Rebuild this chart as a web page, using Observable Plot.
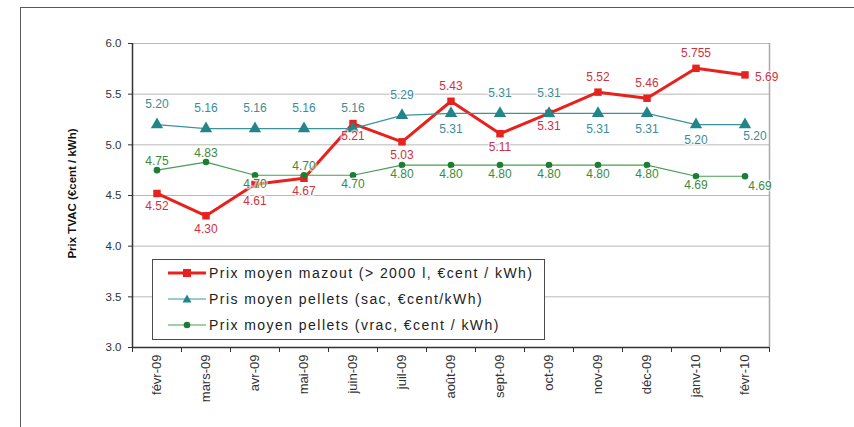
<!DOCTYPE html>
<html>
<head>
<meta charset="utf-8">
<script src="https://cdn.jsdelivr.net/npm/d3@7"></script>
<script src="https://cdn.jsdelivr.net/npm/@observablehq/plot@0.6"></script>
<style>
  html, body { margin: 0; padding: 0; background: #fff; }
  #wrap { position: relative; width: 854px; height: 427px; overflow: hidden; font-family: "Liberation Sans", Arial, sans-serif; }
  #frame { position: absolute; left: 20px; top: 7px; width: 840px; height: 430px; border-left: 1.5px solid #5a5a5a; border-top: 1.5px solid #5a5a5a; pointer-events: none; }
  #chart { position: absolute; left: 0; top: 0; }
  #legend { position: absolute; left: 152px; top: 259px; width: 391px; height: 79px; border: 1.5px solid #4a4a4a; background: #fff; }
  .item { position: absolute; left: 0; height: 20px; display: flex; align-items: center; }
  .item svg { margin-left: 15px; }
  .item span { margin-left: 3px; font-size: 14px; letter-spacing: 1.45px; color: #222; white-space: nowrap; }
</style>
</head>
<body>
<div id="wrap">
  <div id="frame"></div>
  <div id="chart"></div>
  <div id="legend"></div>
</div>
<script>
// ---- data ----
const months = ["févr-09","mars-09","avr-09","mai-09","juin-09","juil-09","août-09","sept-09","oct-09","nov-09","déc-09","janv-10","févr-10"];
const mazout = [4.52, 4.30, 4.61, 4.67, 5.21, 5.03, 5.43, 5.11, 5.31, 5.52, 5.46, 5.755, 5.69];
const pelletsSac = [5.20, 5.16, 5.16, 5.16, 5.16, 5.29, 5.31, 5.31, 5.31, 5.31, 5.31, 5.20, 5.20];
const pelletsVrac = [4.75, 4.83, 4.70, 4.70, 4.70, 4.80, 4.80, 4.80, 4.80, 4.80, 4.80, 4.69, 4.69];
const yTicks = [3.0, 3.5, 4.0, 4.5, 5.0, 5.5, 6.0];
const seriesNames = [
  "Prix moyen mazout (> 2000 l, €cent / kWh)",
  "Pris moyen pellets (sac, €cent/kWh)",
  "Prix moyen pellets (vrac, €cent / kWh)"
];
const yLabel = "Prix TVAC (€cent / kWh)";
// label placement (t = above, b = below, bb = further below, r = right, br = below right)
const placeMazout = ["b","b","bb","b","b","b","t","b","b","t","t","t","r"];
const placeSac    = ["t","t","t","t","t","t","b","t","t","b","b","b","br"];
const placeVrac   = ["t","t","b","t","b","b","b","b","b","b","b","b","br"];

// ---- styles ----
const RED = "#e8211c", RED_TXT = "#cc3342";
const TEAL = "#21858a", TEAL_LINE = "#3a9499", TEAL_TXT = "#3a8c9b";
const GREEN = "#1d7d35", GREEN_LINE = "#4a9c52", GREEN_TXT = "#3b8a3e";

const fmt = v => { const s = String(v); const d = s.includes(".") ? s.split(".")[1].length : 0; return d >= 2 ? s : v.toFixed(2); };
const rows = (vals, place) => vals.map((v, i) => ({ i, x: i + 0.5, v, p: place[i], label: fmt(v) }));

const rM = rows(mazout, placeMazout);
const rS = rows(pelletsSac, placeSac);
const rV = rows(pelletsVrac, placeVrac);

function labels(data, color, off) {
  return Object.keys(off).map(p => Plot.text(data.filter(d => d.p === p), {
    x: "x", y: "v", text: "label",
    dx: off[p].dx || 0, dy: off[p].dy || 0,
    textAnchor: off[p].anchor || "middle",
    fill: color, fontSize: 12, stroke: "white", strokeWidth: 3, strokeOpacity: 0.6,
    style: "letter-spacing:1.6px"
  }));
}

const chart = Plot.plot({
  width: 854, height: 427,
  marginLeft: 132, marginRight: 85, marginTop: 43, marginBottom: 80,
  x: { domain: [0, months.length], axis: null },
  y: { domain: [3, 6], axis: null },
  style: { fontFamily: "'Liberation Sans', Arial, sans-serif", background: "transparent", overflow: "visible" },
  marks: [
    Plot.gridY(yTicks, { stroke: "#b8b8b8", strokeOpacity: 1 }),
    Plot.ruleX([months.length], { stroke: "#a9a9a9", strokeWidth: 1.5 }),
    Plot.axisY(yTicks, { tickSize: 4, tickPadding: 7, tickFormat: d3.format(".1f"), fontSize: 11.5, color: "#333", label: null, style: "letter-spacing:1px" }),
    Plot.axisX(d3.range(months.length + 1), { tickSize: 5, tickFormat: () => "", color: "#333", label: null }),
    Plot.axisX(months.map((m, i) => i + 0.5), { tickSize: 0, tickPadding: 7, tickRotate: -90, tickFormat: d => months[Math.floor(d)], fontSize: 13, color: "#333", label: null }),
    Plot.ruleX([0], { stroke: "#333", strokeWidth: 1.5 }),
    Plot.ruleY([3], { stroke: "#333", strokeWidth: 1.5 }),
    Plot.text([yLabel], { frameAnchor: "left", textAnchor: "middle", dx: -60, dy: -2, rotate: -90, fontWeight: "bold", fontSize: 11.5, fill: "#111", style: "letter-spacing:0.5px" }),
    // series
    Plot.line(rM, { x: "x", y: "v", stroke: RED, strokeWidth: 3 }),
    Plot.dot(rM, { x: "x", y: "v", symbol: "square", r: 4.2, fill: RED }),
    Plot.line(rS, { x: "x", y: "v", stroke: TEAL_LINE, strokeWidth: 1.2 }),
    Plot.dot(rS, { x: "x", y: "v", symbol: "triangle", r: 4.6, fill: TEAL }),
    Plot.line(rV, { x: "x", y: "v", stroke: GREEN_LINE, strokeWidth: 1.2 }),
    Plot.dot(rV, { x: "x", y: "v", r: 3.3, fill: GREEN }),
    ...labels(rM, RED_TXT, { t: { dy: -15 }, b: { dy: 13 }, bb: { dy: 17 }, r: { dx: 10, dy: 2, anchor: "start" } }),
    ...labels(rS, TEAL_TXT, { t: { dy: -20 }, b: { dy: 16 }, br: { dx: 10, dy: 12 } }),
    ...labels(rV, GREEN_TXT, { t: { dy: -9 }, b: { dy: 9 }, br: { dx: 15, dy: 10 } })
  ]
});
document.getElementById("chart").appendChild(chart);

// ---- legend (inside plot area, as in the original) ----
const legend = document.getElementById("legend");
const swatches = [
  { stroke: RED, w: 3, marker: `<rect x="15" y="2" width="8" height="8" fill="${RED}"/>` },
  { stroke: TEAL_LINE, w: 1.2, marker: `<path d="M19,1.5 L23.5,9.5 L14.5,9.5 Z" fill="${TEAL}"/>` },
  { stroke: GREEN_LINE, w: 1.2, marker: `<circle cx="19" cy="6" r="3.3" fill="${GREEN}"/>` }
];
seriesNames.forEach((name, k) => {
  const s = swatches[k];
  const div = document.createElement("div");
  div.className = "item";
  div.style.top = (3 + k * 26) + "px";
  div.innerHTML = `<svg width="38" height="12"><line x1="0" y1="6" x2="38" y2="6" stroke="${s.stroke}" stroke-width="${s.w}"/>${s.marker}</svg><span>${name}</span>`;
  legend.appendChild(div);
});
</script>
</body>
</html>
